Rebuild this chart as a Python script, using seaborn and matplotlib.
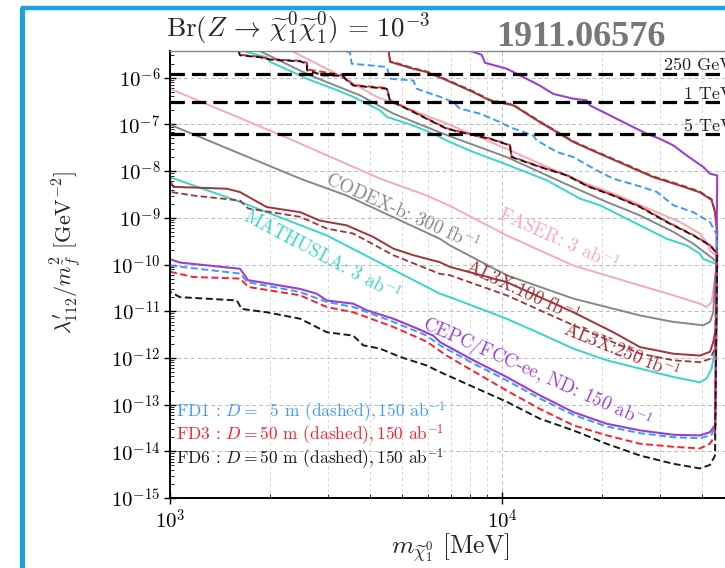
import numpy as np
import pandas as pd
import matplotlib
matplotlib.use("Agg")
import matplotlib.pyplot as plt
import matplotlib.ticker as mticker
from matplotlib.lines import Line2D
import seaborn as sns

# ---------------- data (mass in MeV, lambda'/m^2 in GeV^-2) ----------------
cepc_lo_m = [1000, 1072, 1626, 1719, 1867, 2466, 2767, 2965, 3565, 3910, 4709, 5534, 6209, 6501, 8195, 10330, 13000, 16410, 20660, 26070, 32830, 39460, 42320, 43830]
cepc_lo_v = [1.3e-10, 1.1e-10, 8.1e-11, 4.6e-11, 4.2e-11, 3.0e-11, 2.37e-11, 1.7e-11, 1.45e-11, 1.05e-11, 6.9e-12, 4.3e-12, 3.0e-12, 2.19e-12, 8.9e-13, 3.9e-13, 1.58e-13, 6.9e-14, 3.9e-14, 2.8e-14, 2.26e-14, 2.19e-14, 2.57e-14, 3.6e-14]
cepc_up_m = [7463, 8688, 8891, 10330, 11070, 13000, 14280, 16410, 17990, 18410, 21630, 24300, 27300, 29950, 32830, 35990, 40380, 42320, 44500]
cepc_up_v = [4.5e-6, 3.1e-6, 2.09e-6, 1.56e-6, 1.22e-6, 6.8e-7, 4.5e-7, 3.55e-7, 3.27e-7, 2.55e-7, 1.44e-7, 9.5e-8, 6.3e-8, 4.9e-8, 3.55e-8, 2.17e-8, 1.23e-8, 8.8e-9, 8.1e-9]

fd1_lo_m = [1000, 1626, 1710, 2466, 2965, 3565, 4709, 5930, 6501, 8195, 10330, 13000, 16410, 20660, 26070, 32830, 39460, 42810, 44000]
fd1_lo_v = [9.5e-11, 6.4e-11, 4.2e-11, 2.57e-11, 1.58e-11, 1.23e-11, 5.9e-12, 3.0e-12, 1.86e-12, 7.6e-13, 3.3e-13, 1.35e-13, 6.0e-14, 3.4e-14, 2.45e-14, 2.0e-14, 1.9e-14, 2.26e-14, 3.6e-14]
fd1_up_m = [2642, 3484, 3525, 4497, 4601, 5408, 5534, 6501, 7128, 7463, 8587, 9863, 10570, 12420, 12710, 14620, 16410, 19280, 21630, 26070, 29260, 32830, 37680, 42320, 44500]
fd1_up_v = [4.5e-6, 3.55e-6, 2.0e-6, 1.7e-6, 9.5e-7, 8.7e-7, 5.8e-7, 3.9e-7, 3.0e-7, 2.19e-7, 1.7e-7, 1.12e-7, 8.7e-8, 5.8e-8, 4.6e-8, 2.57e-8, 2.0e-8, 1.04e-8, 6.9e-9, 4.7e-9, 3.6e-9, 1.86e-9, 1.32e-9, 8.1e-10, 4.2e-10]

fd3_lo_m = [1000, 1176, 1626, 1722, 2466, 2965, 3565, 4709, 5930, 6808, 10330, 13000, 16410, 20660, 26070, 32830, 39460, 42320, 43830]
fd3_lo_v = [7.0e-11, 5.4e-11, 5.0e-11, 3.3e-11, 2.19e-11, 1.23e-11, 9.5e-12, 4.6e-12, 2.24e-12, 1.12e-12, 2.0e-13, 8.1e-14, 3.6e-14, 2.2e-14, 1.45e-14, 1.25e-14, 1.15e-14, 1.45e-14, 2.19e-14]
fd3_up_m = [1600, 1626, 1867, 2000, 2466, 2582, 2600, 3105, 3289, 3565, 4497, 4601, 5408, 5930, 6808, 7463, 9204, 10570, 10690, 13000, 15670, 18160, 21630, 26070, 31360, 37680, 42320, 44500]
fd3_up_v = [4.5e-6, 3.1e-6, 2.8e-6, 2.5e-6, 2.3e-6, 2.1e-6, 1.5e-6, 1.22e-6, 1.15e-6, 7.0e-7, 6.0e-7, 3.3e-7, 1.9e-7, 1.35e-7, 8.3e-8, 7.0e-8, 5.0e-8, 3.6e-8, 2.05e-8, 1.25e-8, 8.3e-9, 4.8e-9, 3.05e-9, 1.75e-9, 8.3e-10, 4.3e-10, 2.6e-10, 1.75e-10]

fd6_lo_m = [1000, 1072, 1590, 1643, 1955, 2466, 2965, 3565, 3820, 4294, 4932, 5930, 6501, 10330, 13000, 16410, 20660, 26070, 32830, 39460, 42320, 43830]
fd6_lo_v = [2.6e-11, 2.0e-11, 1.7e-11, 1.12e-11, 9.5e-12, 6.9e-12, 3.55e-12, 3.0e-12, 1.86e-12, 1.58e-12, 1.05e-12, 6.9e-13, 5.0e-13, 1.15e-13, 5.0e-14, 2.8e-14, 1.45e-14, 8.1e-15, 5.4e-15, 4.3e-15, 5.1e-15, 8.1e-15]
fd6_up_m = [1590, 1626, 1867, 2000, 2466, 2582, 2588, 2897, 3289, 3565, 4497, 4601, 5408, 5930, 6808, 7463, 9204, 10570, 10690, 13000, 15670, 18160, 21630, 26070, 31360, 37680, 42320, 44500]
fd6_up_v = [4.5e-6, 3.02e-6, 2.75e-6, 2.45e-6, 2.24e-6, 2.0e-6, 1.45e-6, 1.12e-6, 1.1e-6, 6.8e-7, 5.8e-7, 3.24e-7, 1.84e-7, 1.32e-7, 8.1e-8, 6.9e-8, 4.9e-8, 3.55e-8, 2.0e-8, 1.23e-8, 8.1e-9, 4.7e-9, 3.0e-9, 1.7e-9, 8.1e-10, 4.2e-10, 2.57e-10, 1.7e-10]

mat_lo_m = [1000, 1626, 2965, 6501, 6966, 10330, 12710, 16410, 20660, 26070, 32830, 39460, 41320, 42810, 43830]
mat_lo_v = [7.4e-9, 2.19e-9, 4.2e-10, 2.37e-11, 2.0e-11, 6.9e-12, 3.6e-12, 1.58e-12, 8.9e-13, 5.9e-13, 3.9e-13, 3.0e-13, 3.6e-13, 5.9e-13, 1.58e-12]
mat_up_m = [1606, 1783, 1955, 2000, 2466, 2582, 3105, 3565, 4294, 4497, 5408, 6209, 6966, 8195, 9863, 13630, 17180, 19730, 24880, 31360, 35990, 39460, 40380, 43830, 44500]
mat_up_v = [4.0e-6, 3.24e-6, 2.75e-6, 2.19e-6, 1.12e-6, 9.5e-7, 5.8e-7, 3.9e-7, 2.0e-7, 1.45e-7, 9.5e-8, 6.3e-8, 4.2e-8, 2.57e-8, 1.57e-8, 6.4e-9, 2.57e-9, 1.86e-9, 8.1e-10, 3.55e-10, 2.57e-10, 1.7e-10, 1.32e-10, 1.05e-10, 1.0e-10]

codex_lo_m = [1000, 2466, 3404, 6501, 6966, 10330, 16410, 26070, 32830, 40380, 42320, 43310, 43830]
codex_lo_v = [9.9e-8, 6.9e-9, 3.0e-9, 3.55e-10, 2.57e-10, 5.9e-11, 1.86e-11, 8.1e-12, 5.9e-12, 5.0e-12, 5.9e-12, 9.5e-12, 5.0e-11]
codex_up_m = [1800, 2642, 3733, 4709, 6652, 10330, 15670, 20660, 26070, 32830, 37680, 41320, 43310, 44500]
codex_up_v = [4.2e-6, 1.12e-6, 4.2e-7, 1.7e-7, 6.3e-8, 2.0e-8, 5.2e-9, 2.19e-9, 1.12e-9, 5.0e-10, 2.8e-10, 1.7e-10, 1.32e-10, 1.1e-10]

faser_lo_m = [1000, 2248, 4294, 5930, 6966, 10330, 16410, 26070, 32830, 39460, 41320, 42810, 43830]
faser_lo_v = [5.8e-7, 5.2e-8, 6.9e-9, 3.0e-9, 1.8e-9, 4.2e-10, 9.5e-11, 3.55e-11, 2.19e-11, 1.45e-11, 1.23e-11, 1.58e-11, 5.0e-11]
faser_up_m = [2298, 3105, 4195, 6700, 10330, 16410, 22400, 29260, 34380, 39460, 41320, 42320, 43830, 44500]
faser_up_v = [3.9e-6, 1.32e-6, 3.9e-7, 1.1e-7, 3.0e-8, 6.9e-9, 3.0e-9, 1.32e-9, 8.1e-10, 4.6e-10, 3.0e-10, 2.0e-10, 1.58e-10, 1.5e-10]

al100_lo_m = [1000, 1023, 1483, 1626, 1955, 2466, 2831, 3404, 4094, 4709, 5408, 6501, 6966, 10330, 16410, 21630, 26070, 32830, 39460, 42320, 43310, 44200]
al100_lo_v = [6.3e-9, 4.6e-9, 4.2e-9, 3.55e-9, 1.7e-9, 1.32e-9, 8.7e-10, 6.9e-10, 3.9e-10, 2.19e-10, 1.58e-10, 1.12e-10, 8.9e-11, 4.2e-11, 9.5e-12, 3.55e-12, 1.7e-12, 1.23e-12, 1.12e-12, 1.35e-12, 2.19e-12, 5.0e-12]
al100_up_m = [4548, 4601, 5408, 5930, 6650, 8195, 9204, 10810, 13000, 16410, 19730, 23740, 28590, 34380, 39460, 42810, 43830, 44500]
al100_up_v = [4.0e-6, 2.19e-6, 1.55e-6, 1.32e-6, 9.5e-7, 4.9e-7, 3.24e-7, 2.57e-7, 1.12e-7, 4.2e-8, 2.34e-8, 1.32e-8, 7.4e-9, 4.9e-9, 3.5e-9, 2.4e-9, 1.32e-9, 5.0e-10]

al250_lo_m = [1012, 1176, 1626, 1722, 2466, 2965, 3565, 4709, 6501, 6966, 10330, 16410, 26070, 32830, 39460, 42320, 43830]
al250_lo_v = [3.55e-9, 3.0e-9, 2.34e-9, 1.58e-9, 1.05e-9, 5.9e-10, 4.6e-10, 1.58e-10, 6.3e-11, 5.9e-11, 2.19e-11, 5.0e-12, 1.23e-12, 8.9e-13, 8.1e-13, 9.5e-13, 1.58e-12]
al250_up_m = [4560, 4610, 5408, 5930, 6650, 8195, 9204, 10810, 13000, 16410, 19730, 23740, 28590, 34380, 39460, 42810, 43830, 44500]
al250_up_v = [4.0e-6, 2.25e-6, 1.6e-6, 1.36e-6, 9.8e-7, 5.1e-7, 3.35e-7, 2.65e-7, 1.16e-7, 4.35e-8, 2.42e-8, 1.37e-8, 7.7e-9, 5.1e-9, 3.65e-9, 2.5e-9, 1.38e-9, 5.2e-10]

scale_labels = ["250 GeV", "1 TeV", "5 TeV"]
scale_values = [1.22e-6, 3.0e-7, 6.1e-8]

# ---------------- style ----------------
sns.set_theme(style="white")
plt.rcParams.update({
    "font.family": ["cmr10", "DejaVu Serif"],
    "mathtext.fontset": "cm",
    "axes.unicode_minus": False,
    "axes.formatter.use_mathtext": True,
})

W, H = 725, 568
fig = plt.figure(figsize=(W / 100, H / 100), dpi=100)
fig.patch.set_facecolor("white")
ax = fig.add_axes([170 / W, 1 - 498 / H, (734 - 170) / W, (498 - 51) / H])
ax.set_xscale("log")
ax.set_yscale("log")
ax.set_xlim(1e3, 5e4)
ax.set_ylim(1e-15, 10 ** -5.428)

def contour(lo_m, lo_v, up_m, up_v):
    m = list(lo_m) + list(up_m)[::-1]
    v = list(lo_v) + list(up_v)[::-1]
    return pd.DataFrame({"m": m, "v": v})

def draw(df, color, lw, ls="-", z=2):
    sns.lineplot(data=df, x="m", y="v", sort=False, estimator=None, ax=ax,
                 color=color, linewidth=lw, linestyle=ls, zorder=z)

dash = (0, (3.6, 1.8))
draw(contour(faser_lo_m, faser_lo_v, faser_up_m, faser_up_v), "#F7AAB8", 1.4)
draw(contour(codex_lo_m, codex_lo_v, codex_up_m, codex_up_v), "#888888", 1.4)
draw(contour(mat_lo_m, mat_lo_v, mat_up_m, mat_up_v), "#38D6C8", 1.4)
draw(contour(al100_lo_m, al100_lo_v, al100_up_m, al100_up_v), "#A3323A", 1.4)
draw(contour(al250_lo_m, al250_lo_v, al250_up_m, al250_up_v), "#A3323A", 1.3, dash)
draw(contour(cepc_lo_m, cepc_lo_v, cepc_up_m, cepc_up_v), "#9B3FD6", 1.5)
draw(contour(fd1_lo_m, fd1_lo_v, fd1_up_m, fd1_up_v), "#3D9BFF", 1.4, dash)
draw(contour(fd3_lo_m, fd3_lo_v, fd3_up_m, fd3_up_v), "#FF1F2F", 1.4, dash)
draw(contour(fd6_lo_m, fd6_lo_v, fd6_up_m, fd6_up_v), "#1A1A1A", 1.4, (2.5, (3.6, 1.8)))

for lab, val in zip(scale_labels, scale_values):
    ax.axhline(val, color="black", lw=2.3, ls=(0, (4.5, 2.2)), zorder=4)
    ax.text(4.97e4, val * 1.17, lab, ha="right", va="baseline", fontsize=13,
            color="#222222", zorder=5)

# ---------------- curve labels ----------------
lab_kw = dict(ha="center", va="center", rotation_mode="anchor", fontsize=13.5, zorder=6)
ax.text(5000, 1.35e-9, "CODEX-b: 300 fb$^{-1}$", color="#888888", rotation=-24, **lab_kw)
ax.text(14760, 3.5e-10, "FASER: 3 ab$^{-1}$", color="#F7AAB8", rotation=-24, **lab_kw)
ax.text(11560, 2.6e-11, "AL3X:100 fb$^{-1}$", color="#A3323A", rotation=-25, **lab_kw)
ax.text(2870, 1.6e-10, "MATHUSLA: 3 ab$^{-1}$", color="#38D6C8", rotation=-28, **lab_kw)
ax.text(22960, 1.4e-12, "AL3X:250 fb$^{-1}$", color="#A3323A", rotation=-22, **lab_kw)
ax.text(12740, 4.6e-13, "CEPC/FCC-ee, ND: 150 ab$^{-1}$", color="#9B3FD6", rotation=-24, **lab_kw)

leg_kw = dict(ha="left", va="center", fontsize=12.5, zorder=6)
ax.text(1042, 7.1e-14, r"FD1 : $D=\ \ 5$ m (dashed)$,150$ ab$^{-1}$", color="#3D9BFF", **leg_kw)
ax.text(1042, 2.26e-14, r"FD3 : $D=50$ m (dashed)$,150$ ab$^{-1}$", color="#FF1F2F", **leg_kw)
ax.text(1042, 6.9e-15, r"FD6 : $D=50$ m (dashed)$,150$ ab$^{-1}$", color="#1A1A1A", **leg_kw)

# ---------------- axes cosmetics ----------------
ax.xaxis.set_major_locator(mticker.LogLocator(base=10, numticks=10))
ax.xaxis.set_minor_locator(mticker.LogLocator(base=10, subs=np.arange(2, 10), numticks=20))
ax.yaxis.set_major_locator(mticker.LogLocator(base=10, numticks=20))
ax.yaxis.set_minor_locator(mticker.LogLocator(base=10, subs=np.arange(2, 10), numticks=40))
fmt = mticker.FuncFormatter(lambda v, p: r"$10^{%d}$" % int(round(np.log10(v))))
ax.xaxis.set_major_formatter(fmt)
ax.yaxis.set_major_formatter(fmt)
ax.xaxis.set_minor_formatter(mticker.NullFormatter())
ax.yaxis.set_minor_formatter(mticker.NullFormatter())
ax.tick_params(axis="both", which="major", direction="inout", length=8, width=1.0,
               labelsize=15, colors="black", left=True, bottom=True)
ax.tick_params(axis="both", which="minor", direction="in", length=3, width=0.7,
               left=True, bottom=True)
ax.tick_params(axis="x", which="major", pad=4)
ax.tick_params(axis="y", which="major", pad=3)
ax.grid(True, which="major", axis="both", color="#bbbbbb", ls=(0, (4, 3)), lw=0.7)
ax.grid(True, which="minor", axis="x", color="#d5d5d5", ls=(0, (4, 3)), lw=0.6)
for s in ["left", "bottom"]:
    ax.spines[s].set_color("black")
    ax.spines[s].set_linewidth(1.4)
ax.spines["top"].set_color("#888888")
ax.spines["top"].set_linewidth(1.0)
ax.spines["right"].set_visible(False)

ax.set_xlabel(r"$m_{\widetilde{\chi}^0_1}\ [\mathrm{MeV}]$", fontsize=18.5)
ax.xaxis.set_label_coords(0.497, -0.075)
ax.set_ylabel(r"$\lambda^{\prime}_{112}/m^2_{\tilde{f}}\ [\mathrm{GeV}^{-2}]$", fontsize=16)
ax.yaxis.set_label_coords(-0.155, 0.55)

fig.text(166 / W, 1 - 37 / H,
         r"$\mathrm{Br}(Z\,\rightarrow\,\widetilde{\chi}^0_1\widetilde{\chi}^0_1)\,=\,10^{-3}$",
         fontsize=19.5, ha="left", va="baseline")
fig.text(496 / W, 1 - 46 / H, "1911.06576", fontsize=26, fontweight="bold",
         family="Liberation Serif", color="#777777", ha="left", va="baseline")

# screenshot frame (blue)
fig.add_artist(Line2D([22 / W, 22 / W], [0, 1 - 7 / H], transform=fig.transFigure,
                      color="#18A3E6", lw=3.6, solid_capstyle="butt"))
fig.add_artist(Line2D([20.5 / W, 1], [1 - 8 / H, 1 - 8 / H], transform=fig.transFigure,
                      color="#18A3E6", lw=3.2, solid_capstyle="butt"))

fig.savefig("out.png", dpi=100)
